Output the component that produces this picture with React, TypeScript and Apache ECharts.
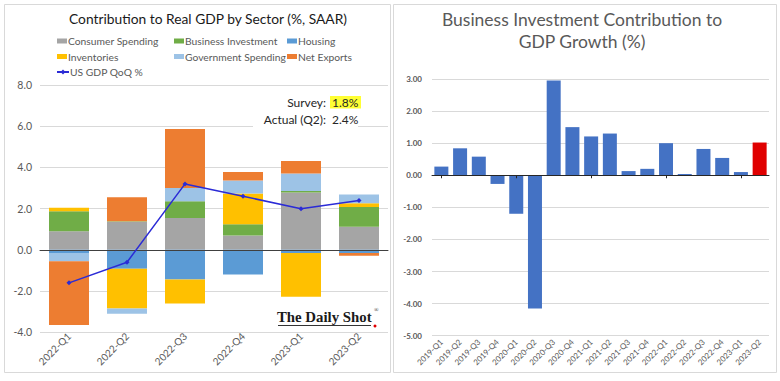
import React, { useEffect, useRef } from "react";
import * as echarts from "echarts";

// ---- Left chart data ----
const quarters = ["2022-Q1", "2022-Q2", "2022-Q3", "2022-Q4", "2023-Q1", "2023-Q2"];
const consumerSpending = [0.9, 1.36, 1.55, 0.7, 2.78, 1.12];
const businessInvestment = [0.97, 0.03, 0.81, 0.54, 0.08, 0.96];
const housing = [-0.15, -0.92, -1.44, -1.2, -0.15, -0.15];
const inventories = [0.17, -1.93, -1.16, 1.49, -2.13, 0.18];
const governmentSpending = [-0.4, -0.25, 0.64, 0.64, 0.85, 0.43];
const netExports = [-3.09, 1.16, 2.87, 0.41, 0.6, -0.13];
const gdpQoQ = [-1.6, -0.6, 3.2, 2.6, 2.0, 2.4];

// ---- Right chart data ----
const periods = [
  "2019-Q1", "2019-Q2", "2019-Q3", "2019-Q4",
  "2020-Q1", "2020-Q2", "2020-Q3", "2020-Q4",
  "2021-Q1", "2021-Q2", "2021-Q3", "2021-Q4",
  "2022-Q1", "2022-Q2", "2022-Q3", "2022-Q4",
  "2023-Q1", "2023-Q2",
];
const bizInvContribution = [
  0.27, 0.84, 0.58, -0.27,
  -1.2, -4.15, 2.95, 1.5,
  1.21, 1.3, 0.13, 0.2,
  1.0, 0.04, 0.82, 0.54,
  0.1, 1.02,
];

const FONT = "Lato";
const TXT = "#595959";
const GRIDC = "#D9D9D9";

export default function App() {
  const ref = useRef<HTMLDivElement>(null);

  useEffect(() => {
    if (!ref.current) return;
    const chart = echarts.init(ref.current, undefined, { renderer: "svg" });

    const barNames = [
      "Consumer Spending",
      "Business Investment",
      "Housing",
      "Inventories",
      "Government Spending",
      "Net Exports",
    ];
    const barData = [consumerSpending, businessInvestment, housing, inventories, governmentSpending, netExports];
    const barColors = ["#A5A5A5", "#70AD47", "#5B9BD5", "#FFC000", "#9DC3E6", "#ED7D31"];

    const legendPos: [string, number, number][] = [
      ["Consumer Spending", 57, 41],
      ["Business Investment", 174, 41],
      ["Housing", 287, 41],
      ["Inventories", 57, 56.5],
      ["Government Spending", 174, 56.5],
      ["Net Exports", 287, 56.5],
      ["US GDP QoQ %", 56, 72],
    ];

    const lastIdx = bizInvContribution.length - 1;

    const option: any = {
      animation: false,
      backgroundColor: "#fff",
      textStyle: { fontFamily: FONT },
      legend: legendPos.map(([name, x, y]) => ({
        data: [name],
        left: x,
        top: y - 7,
        padding: 0,
        itemWidth: name === "US GDP QoQ %" ? 12 : 10,
        itemHeight: name === "US GDP QoQ %" ? 6 : 5,
        icon: name === "US GDP QoQ %" ? undefined : "rect",
        textStyle: {
          fontFamily: FONT,
          fontSize: 10.3,
          color: TXT,
          lineHeight: 14,
          padding: [0, 0, 0, -4],
        },
        selectedMode: false,
      })),
      grid: [
        { left: 40, top: 85, width: 348, height: 247.3 },
        { left: 432, top: 79, width: 337, height: 256.7 },
      ],
      xAxis: [
        {
          type: "category",
          gridIndex: 0,
          data: quarters,
          position: "bottom",
          axisLine: { show: false, onZero: false },
          axisTick: { show: false },
          axisLabel: { rotate: 45, interval: 0, fontSize: 10, color: TXT, margin: 2, fontFamily: FONT },
          splitLine: { show: false },
        },
        {
          type: "category",
          gridIndex: 0,
          data: quarters,
          position: "top",
          z: 5,
          axisLine: { show: true, onZero: true, lineStyle: { color: "#404040", width: 1 } },
          axisTick: { show: false },
          axisLabel: { show: false },
          splitLine: { show: false },
        },
        {
          type: "category",
          gridIndex: 1,
          data: periods,
          position: "bottom",
          axisLine: { show: false, onZero: false },
          axisTick: { show: false },
          axisLabel: { rotate: 45, interval: 0, fontSize: 8, color: TXT, margin: 5, fontFamily: FONT },
          splitLine: { show: false },
        },
        {
          type: "category",
          gridIndex: 1,
          data: periods,
          position: "top",
          z: 5,
          axisLine: { show: true, onZero: true, lineStyle: { color: "#262626", width: 1 } },
          axisTick: { show: true, inside: true, alignWithLabel: true, length: 3, lineStyle: { color: "#262626" } },
          axisLabel: { show: false },
          splitLine: { show: false },
        },
      ],
      yAxis: [
        {
          type: "value",
          gridIndex: 0,
          min: -4,
          max: 8,
          interval: 2,
          axisLine: { show: false },
          axisTick: { show: false },
          axisLabel: { formatter: (v: number) => v.toFixed(1), fontSize: 10.5, color: TXT, margin: 8, fontFamily: FONT },
          splitLine: { lineStyle: { color: GRIDC, width: 1 } },
        },
        {
          type: "value",
          gridIndex: 1,
          min: -5,
          max: 3,
          interval: 1,
          axisLine: { show: false },
          axisTick: { show: false },
          axisLabel: {
            formatter: (v: number) => v.toFixed(2),
            fontSize: 8,
            fontWeight: "bold",
            color: TXT,
            margin: 10,
            fontFamily: FONT,
          },
          splitLine: { lineStyle: { color: GRIDC, width: 1 } },
        },
      ],
      series: [
        ...barNames.map((name, i) => ({
          name,
          type: "bar",
          stack: "gdp",
          xAxisIndex: 0,
          yAxisIndex: 0,
          barWidth: 40,
          z: 2,
          itemStyle: { color: barColors[i] },
          data: barData[i],
        })),
        {
          name: "US GDP QoQ %",
          type: "line",
          xAxisIndex: 0,
          yAxisIndex: 0,
          z: 8,
          symbol: "diamond",
          symbolSize: 5,
          lineStyle: { color: "#2B2BD6", width: 1.5 },
          itemStyle: { color: "#2B2BD6" },
          data: gdpQoQ,
        },
        {
          name: "Business Investment Contribution",
          type: "bar",
          xAxisIndex: 2,
          yAxisIndex: 1,
          barWidth: 14,
          z: 2,
          itemStyle: { color: "#4472C4" },
          data: bizInvContribution.map((v, i) =>
            i === lastIdx ? { value: v, itemStyle: { color: "#E00000" } } : v
          ),
        },
      ],
      graphic: [
        {
          type: "rect",
          shape: { x: 4.5, y: 4.5, width: 386, height: 368 },
          style: { fill: "none", stroke: "#D9D9D9", lineWidth: 1 },
          z: 0,
          silent: true,
        },
        {
          type: "rect",
          shape: { x: 393.5, y: 4.5, width: 383, height: 368 },
          style: { fill: "none", stroke: "#D9D9D9", lineWidth: 1 },
          z: 0,
          silent: true,
        },
        {
          type: "text",
          x: 208,
          y: 18,
          z: 20,
          style: {
            text: "Contribution to Real GDP by Sector (%, SAAR)",
            fontFamily: FONT,
            fontSize: 13.8,
            fill: "#1A1A1A",
            align: "center",
            verticalAlign: "middle",
          },
        },
        {
          type: "text",
          x: 582,
          y: 19,
          z: 20,
          style: {
            text: "Business Investment Contribution to",
            fontFamily: FONT,
            fontSize: 17.5,
            fill: TXT,
            align: "center",
            verticalAlign: "middle",
          },
        },
        {
          type: "text",
          x: 582,
          y: 41,
          z: 20,
          style: {
            text: "GDP Growth (%)",
            fontFamily: FONT,
            fontSize: 17.5,
            fill: TXT,
            align: "center",
            verticalAlign: "middle",
          },
        },
        {
          type: "rect",
          shape: { x: 253, y: 91, width: 105, height: 40 },
          style: { fill: "#FFFFFF" },
          z: 1,
          silent: true,
        },
        {
          type: "rect",
          shape: { x: 330, y: 96, width: 31, height: 12.5 },
          style: { fill: "#FFFF33" },
          z: 1,
          silent: true,
        },
        {
          type: "text",
          x: 326,
          y: 102.5,
          z: 20,
          style: { text: "Survey:", fontFamily: FONT, fontSize: 12, fill: "#262626", align: "right", verticalAlign: "middle" },
        },
        {
          type: "text",
          x: 332,
          y: 102.5,
          z: 20,
          style: { text: "1.8%", fontFamily: FONT, fontSize: 12, fill: "#262626", align: "left", verticalAlign: "middle" },
        },
        {
          type: "text",
          x: 326,
          y: 119,
          z: 20,
          style: { text: "Actual (Q2):", fontFamily: FONT, fontSize: 12, fill: "#262626", align: "right", verticalAlign: "middle" },
        },
        {
          type: "text",
          x: 332,
          y: 119,
          z: 20,
          style: { text: "2.4%", fontFamily: FONT, fontSize: 12, fill: "#262626", align: "left", verticalAlign: "middle" },
        },
        {
          type: "text",
          x: 277,
          y: 317,
          z: 20,
          style: {
            text: "The Daily Shot",
            fontFamily: "Liberation Serif",
            fontWeight: "bold",
            fontSize: 14.8,
            fill: "#1A1A1A",
            align: "left",
            verticalAlign: "middle",
          },
        },
        {
          type: "text",
          x: 374,
          y: 310,
          z: 20,
          style: { text: "®", fontFamily: "Liberation Serif", fontSize: 6, fill: "#1A1A1A", align: "left", verticalAlign: "middle" },
        },
        {
          type: "line",
          z: 20,
          shape: { x1: 278, y1: 325.5, x2: 371, y2: 325.5 },
          style: { stroke: "#333333", lineWidth: 1 },
        },
        {
          type: "circle",
          z: 20,
          shape: { cx: 375, cy: 326, r: 1.5 },
          style: { fill: "#E00000" },
        },
      ],
    };

    chart.setOption(option);
    return () => chart.dispose();
  }, []);

  return (
    <div
      ref={ref}
      style={{ position: "fixed", left: 0, top: 0, width: 780, height: 381, background: "#fff" }}
    />
  );
}
